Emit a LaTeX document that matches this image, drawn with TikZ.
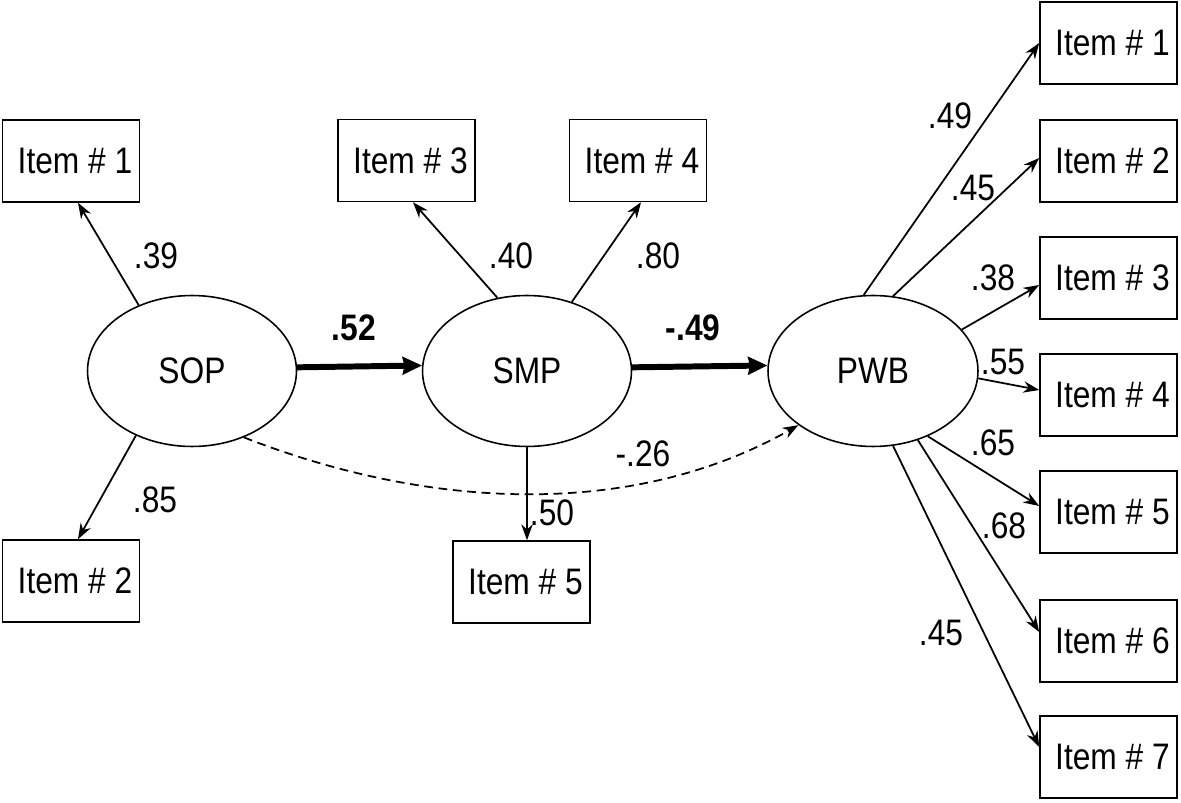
\documentclass[tikz,border=0pt]{standalone}
\usepackage{fontspec}
\setmainfont{Liberation Sans}[FakeStretch=0.86]
\usetikzlibrary{arrows.meta,calc,shapes.geometric}
\begin{document}
\begin{tikzpicture}[x=0.02cm,y=-0.02cm,
  every node/.style={font=\fontsize{21}{25}\selectfont},
  itembox/.style={draw,line width=0.9pt,minimum width=2.74cm,minimum height=1.64cm,inner sep=0pt},
  latent/.style={draw,line width=0.9pt,ellipse,minimum width=4.18cm,minimum height=3.02cm,inner sep=0pt},
  load/.style={line width=1pt,-{Stealth[length=9pt,width=6.5pt]}},
  path/.style={line width=3.4pt,-{Stealth[length=11pt,width=10pt,inset=1pt]}},
  coef/.style={inner sep=0pt},
  boldcoef/.style={inner sep=0pt,font=\fontsize{21}{25}\selectfont\bfseries}]
\useasboundingbox[fill=white] (0,0) rectangle (1181,803);
\newcommand\itm[1]{\hspace*{0.16cm}Item \# #1}
% latent variables
\node[latent] (SOP) at (192,371) {SOP};
\node[latent] (SMP) at (527,371) {SMP};
\node[latent,minimum width=4.2cm] (PWB) at (873,371) {PWB};
% indicator boxes
\node[itembox] (L1) at (71,161) {\itm{1}};
\node[itembox] (L2) at (71,581) {\itm{2}};
\node[itembox] (M3) at (406.5,160.5) {\itm{3}};
\node[itembox] (M4) at (638,160.5) {\itm{4}};
\node[itembox] (M5) at (521.5,582) {\itm{5}};
\node[itembox] (R1) at (1108.5,43) {\itm{1}};
\node[itembox] (R2) at (1108.5,161) {\itm{2}};
\node[itembox] (R3) at (1108.5,278) {\itm{3}};
\node[itembox] (R4) at (1108.5,395) {\itm{4}};
\node[itembox] (R5) at (1108.5,512) {\itm{5}};
\node[itembox] (R6) at (1108.5,641) {\itm{6}};
\node[itembox] (R7) at (1108.5,757) {\itm{7}};
% loadings
\draw[load] (SOP.129.7) -- ($(L1.south)+(7,0)$);
\draw[load] (SOP.229.8) -- ($(L2.north)+(7,0)$);
\draw[load] (SMP.112.5) -- ($(M3.south)+(6.5,0)$);
\draw[load] (SMP.57.7) -- ($(M4.south)+(3,0)$);
\draw[load] (SMP.south) -- (SMP.south |- M5.north);
\draw[load] (PWB.97.6) -- (R1.west);
\draw[load] (PWB.75.1) -- ($(R2.west)+(0,-3)$);
\draw[load] (PWB.25.8) -- ($(R3.west)+(0,7)$);
\draw[load] (PWB.356.2) -- ($(R4.west)+(0,-5)$);
\draw[load] (PWB.310.2) -- ($(R5.west)+(0,-6)$);
\draw[load] (PWB.303.5) -- ($(R6.west)+(0,-9)$);
\draw[load] (PWB.285.9) -- ($(R7.west)+(0,-10)$);
% structural paths
\draw[path] (SOP.2.75) -- (SMP.177.25);
\draw[path] (SMP.2.75) -- (PWB.177.3);
\draw[line width=1pt,dash pattern=on 5pt off 3.2pt,-{Stealth[length=9pt,width=6.5pt]}]
  (SOP.308.6) .. controls (427,509) and (631,520) .. (PWB.216.5);
% coefficient labels
\node[coef] (c39) at (156,256) {.39};
\node[coef] (c85) at (155,500) {.85};
\node[coef] (c40) at (511,256) {.40};
\node[coef] (c80) at (658,256) {.80};
\node[coef] (c50) at (552,513) {.50};
\node[coef] (c26) at (643,454) {-.26};
\node[boldcoef] (c52) at (354,328) {.52};
\node[boldcoef] (c49b) at (693,328) {-.49};
\node[coef] (r49) at (950,116) {.49};
\node[coef] (r45a) at (973,188) {.45};
\node[coef] (r38) at (993,278) {.38};
\node[coef] (r55) at (1003,362) {.55};
\node[coef] (r65) at (993,443) {.65};
\node[coef] (r68) at (1004,526) {.68};
\node[coef] (r45b) at (941,633) {.45};
\end{tikzpicture}
\end{document}
